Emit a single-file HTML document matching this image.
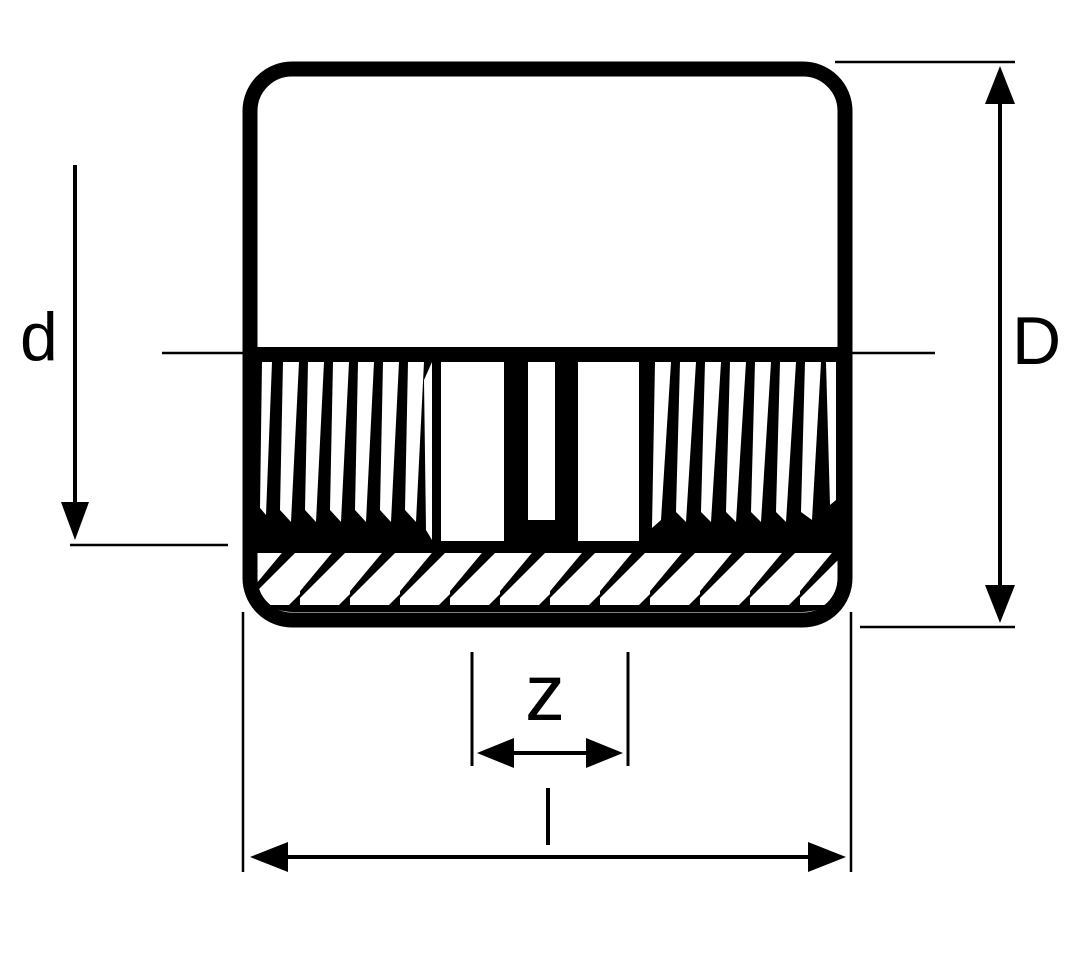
<!DOCTYPE html>
<html><head><style>html,body{margin:0;padding:0;background:#fff}svg{display:block}</style></head>
<body>
<svg width="1079" height="976" viewBox="0 0 1079 976" xmlns="http://www.w3.org/2000/svg">
<defs>
<clipPath id="inner"><path d="M257,355 H838 V575 Q838,612 801,612 H294 Q257,612 257,575 Z"/></clipPath>
<pattern id="hatch" width="50" height="60" patternUnits="userSpaceOnUse" patternTransform="translate(0,548)">
<polygon points="0,60 36,60 86,10 86,0 50,0 0,50" fill="#fff"/>
<polygon points="-50,60 -14,60 36,0 0,0" fill="#fff"/>
</pattern>
</defs>
<rect width="1079" height="976" fill="#fff"/>
<g clip-path="url(#inner)">
<rect x="250" y="350" width="600" height="270" fill="#000"/>
<rect x="255" y="553" width="585" height="52" fill="url(#hatch)"/>
<g fill="#fff">
<polygon points="262,362 272,362 266,515 260,508"/>
<polygon points="283,362 299,362 291,522 280,510"/>
<polygon points="308,362 324,362 316,522 305,510"/>
<polygon points="333,362 349,362 341,522 330,510"/>
<polygon points="358,362 374,362 366,522 355,510"/>
<polygon points="383,362 399,362 391,522 380,510"/>
<polygon points="408,362 424,362 416,522 405,510"/>
<polygon points="424,380 432,362 432,540 426,530"/>
<polygon points="655,362 671,362 661,520 652,528"/>
<polygon points="680,362 696,362 686,522 676,512"/>
<polygon points="705,362 721,362 711,522 701,512"/>
<polygon points="730,362 746,362 736,522 726,512"/>
<polygon points="755,362 771,362 761,522 751,512"/>
<polygon points="780,362 796,362 786,522 776,512"/>
<polygon points="805,362 821,362 812,520 801,512"/>
<polygon points="826,362 836,362 836,500 830,505"/>
<rect x="441" y="362" width="63" height="179"/>
<rect x="528" y="362" width="27" height="158"/>
<rect x="578" y="362" width="61" height="179"/>
</g>
</g>
<rect x="250" y="69" width="595" height="551" rx="42" ry="42" fill="none" stroke="#000" stroke-width="15"/>
<line x1="250" y1="353" x2="845" y2="353" stroke="#000" stroke-width="12"/>
<line x1="162" y1="353" x2="935" y2="353" stroke="#000" stroke-width="2.5"/>
<line x1="835" y1="62" x2="1015" y2="62" stroke="#000" stroke-width="2.5"/>
<line x1="860" y1="627" x2="1015" y2="627" stroke="#000" stroke-width="2.5"/>
<line x1="1000" y1="90" x2="1000" y2="600" stroke="#000" stroke-width="4"/>
<polygon points="1000,66 985,104 1015,104" fill="#000"/>
<polygon points="1000,623 985,585 1015,585" fill="#000"/>
<text x="1012" y="364" font-family="Liberation Sans, sans-serif" font-size="68" fill="#000">D</text>
<line x1="75" y1="165" x2="75" y2="510" stroke="#000" stroke-width="4"/>
<polygon points="75,540 61,502 89,502" fill="#000"/>
<line x1="70" y1="545" x2="228" y2="545" stroke="#000" stroke-width="2.5"/>
<text x="20" y="360" font-family="Liberation Sans, sans-serif" font-size="68" fill="#000">d</text>
<line x1="243" y1="612" x2="243" y2="872" stroke="#000" stroke-width="2.5"/>
<line x1="851" y1="612" x2="851" y2="872" stroke="#000" stroke-width="2.5"/>
<line x1="280" y1="857" x2="815" y2="857" stroke="#000" stroke-width="4"/>
<polygon points="250,857 288,842 288,872" fill="#000"/>
<polygon points="846,857 808,842 808,872" fill="#000"/>
<line x1="548" y1="788" x2="548" y2="845" stroke="#000" stroke-width="4"/>
<line x1="472" y1="652" x2="472" y2="766" stroke="#000" stroke-width="3"/>
<line x1="628" y1="652" x2="628" y2="766" stroke="#000" stroke-width="3"/>
<line x1="500" y1="753" x2="600" y2="753" stroke="#000" stroke-width="4"/>
<polygon points="477,753 514,738 514,768" fill="#000"/>
<polygon points="623,753 586,738 586,768" fill="#000"/>
<text x="545" y="720" text-anchor="middle" font-family="Liberation Sans, sans-serif" font-size="80" fill="#000">z</text>
</svg>
</body></html>
